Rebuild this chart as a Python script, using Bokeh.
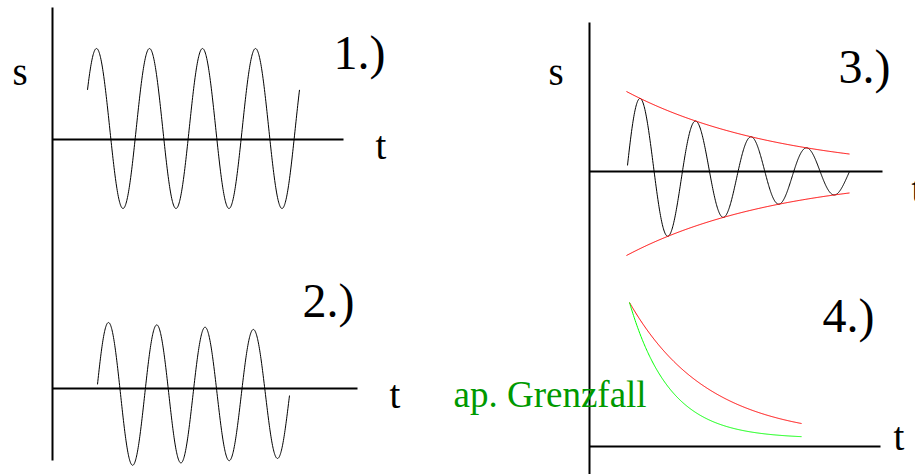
import numpy as np
from bokeh.plotting import figure
from bokeh.models import Range1d
from bokeh.core.properties import value
from bokeh.embed import file_html
from bokeh.resources import INLINE

# ---------------- texts ----------------
panel_labels = ["1.)", "2.)", "3.)", "4.)"]
s_labels = ["s", "s"]
t_labels = ["t", "t", "t", "t"]
note_label = ["ap. Grenzfall"]

# ---------------- curve parameters (pixels) -------------
# 1.) undamped oscillation
osc1_center, osc1_amp, osc1_period, osc1_first_peak = 128, 80, 53.0, 96
osc1_span = [87, 299]
# 2.) very weakly damped oscillation
osc2_center, osc2_amp, osc2_period, osc2_first_peak, osc2_decay = 394, 72, 48.3, 108, 0.0007
osc2_span = [97, 289]
# 3.) damped oscillation with exponential envelope
osc3_center, osc3_amp, osc3_period, osc3_first_peak, osc3_decay = 173, 82, 55.5, 640, 0.00645
osc3_span = [627, 849]
env3_span = [626, 849]
# 4.) overdamped (red) and aperiodic limit case (green)
decay4_start = [629, 302]
decay4_end_x = 801
decay4_asymptote = 438
decay4_tau_red = 78
decay4_tau_green = 40

# ---------------- axes layout ----------------
vaxis_x = [52, 589]
vaxis_y0 = [7, 22]
vaxis_y1 = [460, 474]
haxis_y = [139, 388, 171, 446]
haxis_x0 = [52, 52, 589, 589]
haxis_x1 = [343, 357, 882, 880]

W, H = 915, 474
p = figure(width=W, height=H, x_range=Range1d(0, W), y_range=Range1d(H, 0),
           output_backend="svg", toolbar_location=None,
           x_axis_location=None, y_axis_location=None, min_border=0)
p.grid.visible = False
p.outline_line_color = None
p.background_fill_color = "white"
p.border_fill_color = "white"

# axes
p.segment(x0=vaxis_x, y0=vaxis_y0, x1=vaxis_x, y1=vaxis_y1, line_color="black", line_width=2)
p.segment(x0=haxis_x0, y0=haxis_y, x1=haxis_x1, y1=haxis_y, line_color="black", line_width=2)

# 1.)
x1 = np.linspace(osc1_span[0], osc1_span[1], 600)
y1 = osc1_center - osc1_amp * np.sin(np.pi / 2 + 2 * np.pi * (x1 - osc1_first_peak) / osc1_period)
p.line(x1, y1, line_color="black", line_width=1)

# 2.)
x2 = np.linspace(osc2_span[0], osc2_span[1], 600)
y2 = osc2_center - osc2_amp * np.exp(-osc2_decay * (x2 - osc2_first_peak)) * \
    np.sin(np.pi / 2 + 2 * np.pi * (x2 - osc2_first_peak) / osc2_period)
p.line(x2, y2, line_color="black", line_width=1)

# 3.)
x3 = np.linspace(osc3_span[0], osc3_span[1], 600)
y3 = osc3_center - osc3_amp * np.exp(-osc3_decay * (x3 - env3_span[0])) * \
    np.sin(np.pi / 2 + 2 * np.pi * (x3 - osc3_first_peak) / osc3_period)
p.line(x3, y3, line_color="black", line_width=1)
xe = np.linspace(env3_span[0], env3_span[1], 300)
env = osc3_amp * np.exp(-osc3_decay * (xe - env3_span[0]))
p.line(xe, osc3_center - env, line_color="#ff0000", line_width=1)
p.line(xe, osc3_center + env, line_color="#ff0000", line_width=1)

# 4.)
x4 = np.linspace(decay4_start[0], decay4_end_x, 300)
amp4 = decay4_asymptote - decay4_start[1]
p.line(x4, decay4_asymptote - amp4 * np.exp(-(x4 - decay4_start[0]) / decay4_tau_red),
       line_color="#ff0000", line_width=1)
p.line(x4, decay4_asymptote - amp4 * np.exp(-(x4 - decay4_start[0]) / decay4_tau_green),
       line_color="#00ff00", line_width=1)

serif = value("Liberation Serif")
p.text(x=[333, 302, 838, 822], y=[69, 317, 83, 332], text=panel_labels,
       text_font=serif, text_font_size="48px", text_color="black",
       text_align="left", text_baseline="alphabetic", y_offset=-17)
p.text(x=[12, 548], y=[83, 83], text=s_labels,
       text_font=serif, text_font_size="39px", text_color="black",
       text_align="left", text_baseline="alphabetic", y_offset=-12)
p.text(x=[375, 389, 911, 893], y=[157, 406, 200, 448], text=t_labels,
       text_font=serif, text_font_size="39px", text_color="black",
       text_align="left", text_baseline="alphabetic", y_offset=-12)
p.text(x=[453], y=[405], text=note_label,
       text_font=serif, text_font_size="37px", text_color="#009900",
       text_align="left", text_baseline="alphabetic", y_offset=-11)

open("out.html", "w").write(file_html(p, INLINE))
